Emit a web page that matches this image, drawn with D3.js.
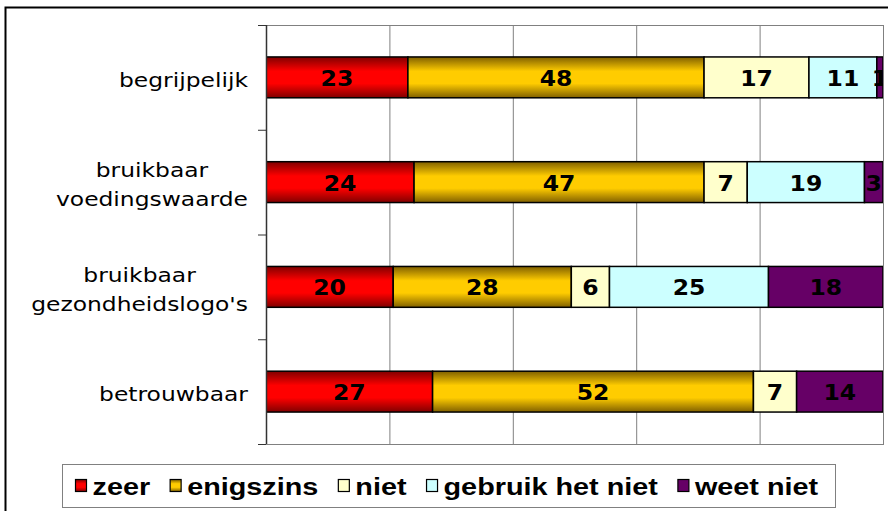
<!DOCTYPE html>
<html><head><meta charset="utf-8">
<script src="https://cdn.jsdelivr.net/npm/d3@7"></script>
<style>html,body{margin:0;padding:0;background:#fff;}svg{display:block;}</style>
</head><body>
<svg id="chart" width="888" height="511"></svg>
<script>
const categories = ["begrijpelijk", "bruikbaar voedingswaarde", "bruikbaar gezondheidslogo's", "betrouwbaar"];
const categoryLines = [["begrijpelijk"], ["bruikbaar", "voedingswaarde"], ["bruikbaar", "gezondheidslogo's"], ["betrouwbaar"]];
const seriesNames = ["zeer", "enigszins", "niet", "gebruik het niet", "weet niet"];
const zeer = [23, 24, 20, 27];
const enigszins = [48, 47, 28, 52];
const niet = [17, 7, 6, 7];
const gebruikHetNiet = [11, 19, 25, 0];
const weetNiet = [1, 3, 18, 14];
const xTicks = [0, 20, 40, 60, 80, 100];

(function () {
const seriesValues = [zeer, enigszins, niet, gebruikHetNiet, weetNiet];
const colors = ["#ff0000", "#ffcc00", "#ffffcc", "#ccffff", "#660066"];
const gradientFor = [["#800000", "#ff0000"], ["#806000", "#ffcc00"], null, null, null];

const rows = categories.map((c, i) => {
  const r = {cat: c};
  seriesNames.forEach((s, j) => r[s] = seriesValues[j][i]);
  return r;
});
const stack = d3.stack().keys(seriesNames).offset(d3.stackOffsetExpand);
const stacked = stack(rows);

const svg = d3.select("#chart");
const defs = svg.append("defs");
gradientFor.forEach((g, j) => {
  if (!g) return;
  const lg = defs.append("linearGradient").attr("id", "grad" + j)
    .attr("x1", 0).attr("y1", 0).attr("x2", 0).attr("y2", 1);
  lg.append("stop").attr("offset", "0%").attr("stop-color", g[0]);
  lg.append("stop").attr("offset", "35%").attr("stop-color", g[1]);
  lg.append("stop").attr("offset", "65%").attr("stop-color", g[1]);
  lg.append("stop").attr("offset", "100%").attr("stop-color", g[0]);
});
const fillOf = j => gradientFor[j] ? `url(#grad${j})` : colors[j];

// outer frame
svg.append("rect").attr("x", 5.5).attr("y", 7.5).attr("width", 900).attr("height", 520)
  .attr("fill", "none").attr("stroke", "#000").attr("stroke-width", 2);

const pL = 266, pR = 883, pT = 25, pB = 444;
const x = d3.scaleLinear().domain([0, 1]).range([pL, pR]);
const xPct = d3.scaleLinear().domain([0, 100]).range([pL, pR]);
const y = d3.scaleBand().domain(categories).range([pT, pB]).paddingInner(0.61).paddingOuter(0.305);

defs.append("clipPath").attr("id", "plotclip").append("rect")
  .attr("x", pL).attr("y", pT).attr("width", pR - pL).attr("height", pB - pT);

// gridlines
svg.append("g").selectAll("line").data(xTicks.slice(1, -1)).join("line")
  .attr("x1", d => xPct(d) + 0.5).attr("x2", d => xPct(d) + 0.5)
  .attr("y1", pT).attr("y2", pB)
  .attr("stroke", "#808080").attr("stroke-width", 1);
// plot border
svg.append("rect").attr("x", pL + 0.5).attr("y", pT + 0.5)
  .attr("width", pR - pL).attr("height", pB - pT)
  .attr("fill", "none").attr("stroke", "#808080").attr("stroke-width", 1);

// bars
const plot = svg.append("g").attr("clip-path", "url(#plotclip)");
stacked.forEach((layer, j) => {
  plot.append("g").selectAll("rect").data(layer.filter(d => d[1] - d[0] > 0)).join("rect")
    .attr("x", d => x(d[0]))
    .attr("y", d => y(d.data.cat))
    .attr("width", d => x(d[1]) - x(d[0]))
    .attr("height", y.bandwidth())
    .attr("fill", fillOf(j))
    .attr("stroke", "#000").attr("stroke-width", 1.5);
});
// data labels
stacked.forEach((layer, j) => {
  plot.append("g").selectAll("text").data(layer.filter(d => d[1] - d[0] > 0)).join("text")
    .attr("transform", d => `translate(${(x(d[0]) + x(d[1])) / 2},${y(d.data.cat) + y.bandwidth() / 2 + 8.5}) scale(1.12,1)`)
    .attr("text-anchor", "middle")
    .attr("font-family", "DejaVu Sans, Verdana, sans-serif")
    .attr("font-weight", "bold").attr("font-size", 21)
    .attr("fill", "#000")
    .text(d => d.data[layer.key]);
});

// y axis
const yAxisG = svg.append("g");
yAxisG.append("line").attr("x1", pL + 0.5).attr("x2", pL + 0.5).attr("y1", pT).attr("y2", pB)
  .attr("stroke", "#333").attr("stroke-width", 1.5);
const step = y.step();
yAxisG.selectAll("line.tick").data(d3.range(categories.length + 1)).join("line").attr("class", "tick")
  .attr("x1", pL - 8).attr("x2", pL)
  .attr("y1", i => pT + i * step + 0.5).attr("y2", i => pT + i * step + 0.5)
  .attr("stroke", "#333").attr("stroke-width", 1);

// category labels
const sxCat = 1.17;
categories.forEach((c, i) => {
  const lines = categoryLines[i];
  const cy = y(c) + y.bandwidth() / 2;
  const g = svg.append("g");
  const texts = lines.map((ln) => g.append("text")
    .attr("text-anchor", "middle")
    .attr("font-family", "DejaVu Sans, Verdana, sans-serif")
    .attr("font-size", 20).attr("fill", "#000").text(ln));
  const maxW = d3.max(texts, t => t.node().getComputedTextLength()) * sxCat;
  const cx = 248 - maxW / 2;
  texts.forEach((t, k) => {
    const by = cy + 9.5 + (k - (lines.length - 1) / 2) * 29.5;
    t.attr("transform", `translate(${cx},${by}) scale(${sxCat},1)`);
  });
});

// legend
svg.append("rect").attr("x", 62.5).attr("y", 464.5).attr("width", 773).attr("height", 43)
  .attr("fill", "#fff").attr("stroke", "#808080").attr("stroke-width", 1);
const sxLeg = 1.2;
let lx = 75.5;
seriesNames.forEach((s, j) => {
  svg.append("rect").attr("x", lx).attr("y", 479.5).attr("width", 11).attr("height", 12)
    .attr("fill", fillOf(j)).attr("stroke", "#000").attr("stroke-width", 1.2);
  const t = svg.append("text")
    .attr("font-family", "Liberation Sans, Arial, sans-serif")
    .attr("font-weight", "bold").attr("font-size", 24).attr("fill", "#000")
    .attr("transform", `translate(${lx + 17},494.5) scale(${sxLeg},1)`)
    .text(s);
  const w = t.node().getComputedTextLength() * sxLeg;
  lx = lx + 17 + w + 20;
});
})();
</script>
</body></html>
